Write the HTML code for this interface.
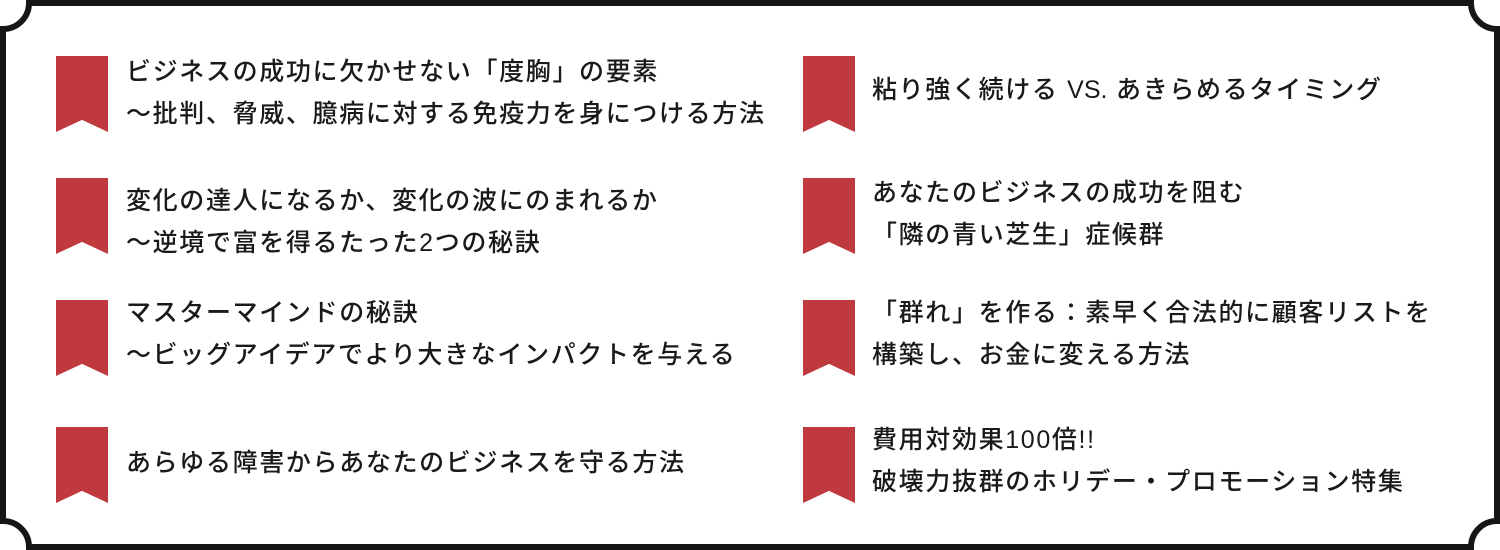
<!DOCTYPE html>
<html><head><meta charset="utf-8"><style>
body{margin:0;width:1500px;height:550px;background:#fff;position:relative;overflow:hidden;font-family:"Liberation Sans","Noto Sans CJK JP",sans-serif;color:#1a1a1a}
.bm{position:absolute;width:52px;height:76px;background:#c0393f;clip-path:polygon(0 0,100% 0,100% 100%,50% 84%,0 100%)}
.t{position:absolute;font-size:25px;font-weight:500;line-height:42px;white-space:nowrap;letter-spacing:1.65px}
</style></head><body>
<svg width="1500" height="550" style="position:absolute;left:0;top:0">
<path d="M29 3 H1471 A26 26 0 0 0 1497 29 V521 A26 26 0 0 0 1471 547 H29 A26 26 0 0 0 3 521 V29 A26 26 0 0 0 29 3 Z" fill="none" stroke="#161616" stroke-width="6"/>
</svg>
<div class="bm" style="left:56px;top:56px"></div>
<div class="bm" style="left:56px;top:178px"></div>
<div class="bm" style="left:56px;top:300px"></div>
<div class="bm" style="left:56px;top:427px"></div>
<div class="bm" style="left:803px;top:56px"></div>
<div class="bm" style="left:803px;top:178px"></div>
<div class="bm" style="left:803px;top:300px"></div>
<div class="bm" style="left:803px;top:427px"></div>
<div class="t" style="left:126px;top:51px">ビジネスの成功に欠かせない「度胸」の要素<br>～批判、脅威、臆病に対する免疫力を身につける方法</div>
<div class="t" style="left:126px;top:180px">変化の達人になるか、変化の波にのまれるか<br>～逆境で富を得るたった2つの秘訣</div>
<div class="t" style="left:126px;top:292px">マスターマインドの秘訣<br>～ビッグアイデアでより大きなインパクトを与える</div>
<div class="t" style="left:126px;top:442px">あらゆる障害からあなたのビジネスを守る方法</div>
<div class="t" style="left:872px;top:69px">粘り強く続ける <span style="letter-spacing:0">VS.</span> あきらめるタイミング</div>
<div class="t" style="left:872px;top:172px">あなたのビジネスの成功を阻む<br>「隣の青い芝生」症候群</div>
<div class="t" style="left:872px;top:292px">「群れ」を作る：素早く合法的に顧客リストを<br>構築し、お金に変える方法</div>
<div class="t" style="left:872px;top:419px">費用対効果100倍!!<br>破壊力抜群のホリデー・プロモーション特集</div>
</body></html>
